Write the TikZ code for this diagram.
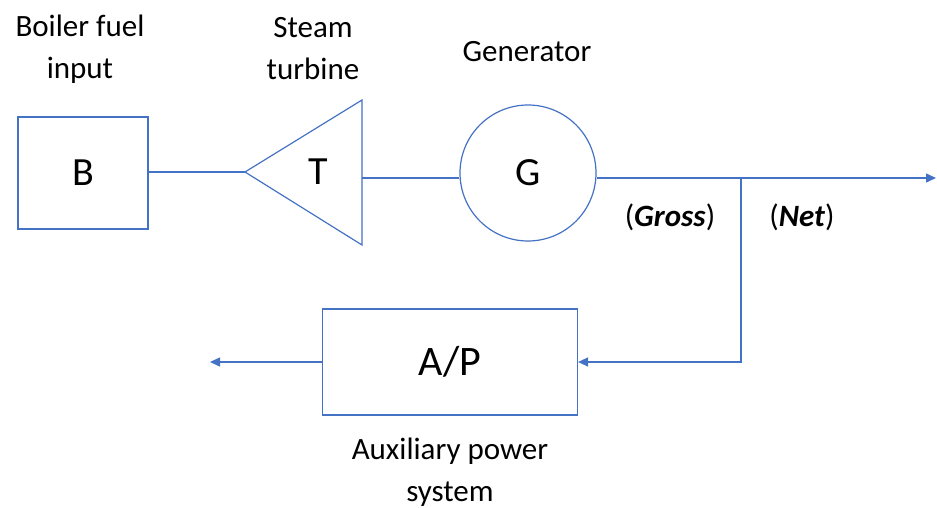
\documentclass[tikz,border=0pt]{standalone}
\usepackage{fontspec}
\setmainfont{Carlito}
\usetikzlibrary{arrows.meta,calc}
\definecolor{linkblue}{RGB}{68,114,196}
\tikzset{unit/.style={draw=linkblue,line width=1.2pt,minimum width=130pt,minimum height=112pt,
 font=\fontsize{40}{42}\selectfont},
 link/.style={draw=linkblue,line width=1.4pt},
 flow/.style={link,-{Triangle[length=10pt,width=9pt]}},
 caption/.style={align=center,font=\fontsize{31}{42}\selectfont}}

\begin{document}
\begin{tikzpicture}[x=1pt,y=-1pt]
\useasboundingbox (0,0) rectangle (937,508);
% blocks
\node[unit] (boiler) at (83,173) {B};
\coordinate (tip) at (245,172);
\coordinate (top) at (362,100);
\coordinate (bottom) at (362,245);
\draw[link,line width=1.2pt] (tip)--(top)--(bottom)--cycle;
\node[font=\fontsize{40}{42}\selectfont] (turbine) at (318,172) {T};
\coordinate (exhaust) at (362,178);
\node[unit,circle,minimum size=136pt] (gen) at (528,173) {G};
\node[unit,minimum width=255pt,minimum height=106pt,font=\fontsize{42}{44}\selectfont] (aux) at (450,362) {A/P};
\coordinate (split) at (741,178);
\coordinate (grid) at (936,178);
\coordinate (dump) at (210,362);
% connectors
\draw[link] (boiler.east |- tip)--(tip);
\draw[link] (exhaust)--(exhaust -| gen.west);
\draw[flow] (gen.east |- split)--(grid);
\draw[flow] (split) |- (aux.east);
\draw[flow] (aux.west)--(dump);
% labels
\node[caption] (fuel) at (80,49) {Boiler fuel\\input};
\node[caption] (steam) at (313,49) {Steam\\turbine};
\node[caption] (genlabel) at (527,52) {Generator};
\node[caption] (gross) at (670,217) {(\textbf{\textit{Gross}})};
\node[caption] (net) at (802,217) {(\textbf{\textit{Net}})};
\node[caption] (auxlabel) at (450,472) {Auxiliary power\\system};
\end{tikzpicture}
\end{document}
